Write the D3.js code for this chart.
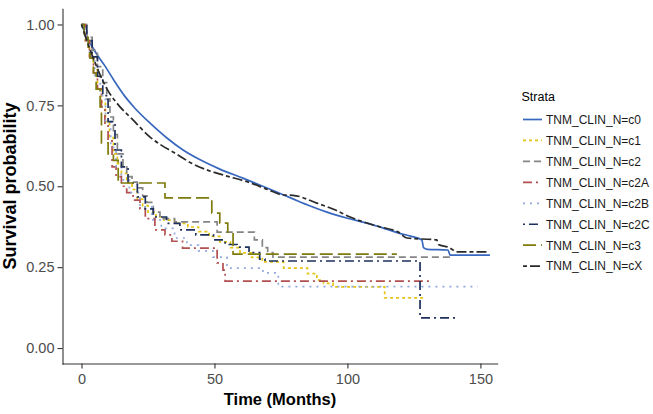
<!DOCTYPE html>
<html><head><meta charset="utf-8">
<script src="https://cdn.jsdelivr.net/npm/d3@7"></script>
<style>body{margin:0;background:#fff}svg{display:block}text{font-family:"Liberation Sans",Arial,sans-serif}</style>
</head><body><div id="chart"></div>
<script>
const strata = ["TNM_CLIN_N=c0","TNM_CLIN_N=c1","TNM_CLIN_N=c2","TNM_CLIN_N=c2A","TNM_CLIN_N=c2B","TNM_CLIN_N=c2C","TNM_CLIN_N=c3","TNM_CLIN_N=cX"];
const xTicks = [0,50,100,150];
const yTicks = [0,0.25,0.5,0.75,1];
const yTickLabels = ["0.00","0.25","0.50","0.75","1.00"];
// [time, survival]
const c0 = [[0,1],[2,0.962],[4,0.932],[6,0.905],[8.8,0.872],[12,0.83],[16.4,0.777],[20,0.742],[25.8,0.695],[32,0.65],[38.2,0.612],[45,0.58],[52,0.553],[60.7,0.525],[70,0.494],[79.5,0.461],[86,0.439],[92.3,0.42],[100,0.401],[107.3,0.386],[113,0.372],[119,0.356],[124,0.345],[128,0.334],[128.6,0.31],[130,0.305],[137.8,0.303],[138.6,0.287],[153.6,0.287]];
const c1 = [[0,1],[1.5,0.95],[3,0.90],[4.5,0.86],[6,0.80],[7.5,0.76],[9,0.70],[10.5,0.65],[12,0.60],[13.5,0.57],[15,0.54],[17,0.51],[19,0.49],[21,0.46],[23,0.44],[25,0.42],[28,0.405],[31,0.395],[35,0.385],[40,0.374],[44,0.36],[48,0.345],[52,0.328],[56,0.31],[59.6,0.294],[64,0.28],[68,0.266],[76,0.247],[85,0.23],[88.5,0.21],[91,0.20],[94.6,0.189],[114,0.155],[129,0.155]];
const c2 = [[0,1],[2,0.96],[4,0.92],[6,0.87],[8,0.82],[9.5,0.77],[10.7,0.714],[12,0.66],[13.5,0.60],[15.6,0.56],[17,0.53],[19,0.513],[21,0.495],[23,0.47],[24.6,0.45],[27,0.42],[29.5,0.40],[35,0.39],[51,0.358],[65,0.334],[68,0.31],[70,0.295],[72,0.281],[139,0.281]];
const c2A = [[0,1],[1.5,0.95],[3,0.90],[4.5,0.85],[6,0.80],[7.5,0.745],[8.8,0.695],[10,0.64],[11.5,0.56],[13,0.53],[15,0.50],[17,0.48],[19.4,0.457],[22,0.43],[24,0.40],[27.6,0.365],[31.4,0.35],[34,0.33],[38,0.309],[51,0.263],[53.2,0.241],[54,0.207],[131,0.207]];
const c2B = [[0,1],[1.5,0.95],[3,0.90],[5,0.84],[7,0.78],[9,0.70],[11,0.62],[13,0.56],[15,0.52],[18,0.48],[22,0.436],[26.5,0.396],[30,0.37],[35,0.34],[39.6,0.318],[44,0.30],[49.4,0.281],[54.7,0.247],[68.2,0.232],[74,0.19],[149,0.19]];
const c2C = [[0,1],[2,0.95],[4,0.90],[6,0.84],[8,0.78],[10,0.70],[12.6,0.612],[15,0.56],[17.5,0.51],[21,0.467],[24,0.43],[27,0.405],[32,0.385],[37,0.365],[43,0.35],[49.6,0.334],[54,0.32],[58.5,0.312],[63,0.295],[67,0.275],[69,0.269],[127.3,0.093],[141.5,0.093]];
const c3 = [[0,1],[1,0.96],[2.5,0.93],[3.2,0.896],[4.5,0.85],[5.5,0.80],[7,0.745],[7.5,0.634],[10,0.60],[12,0.58],[13.8,0.51],[31.4,0.464],[49,0.417],[52,0.386],[55,0.358],[57,0.29],[118.6,0.29]];
const cX = [[0,1],[2,0.95],[5,0.884],[7.5,0.835],[10,0.795],[14,0.75],[19,0.708],[25.8,0.652],[30,0.627],[34.4,0.606],[41.9,0.569],[47,0.551],[53.2,0.535],[63.3,0.511],[70,0.49],[75.8,0.473],[79.5,0.472],[88.5,0.448],[95,0.428],[101,0.405],[107,0.387],[113,0.373],[117,0.365],[119,0.359],[122.4,0.340],[133.6,0.334],[134.2,0.32],[137.8,0.312],[141.5,0.297],[152.4,0.297]];
const seriesData = [c0,c1,c2,c2A,c2B,c2C,c3,cX];
const colors = ["#3867be","#e3c414","#858585","#b24f50","#93a8dd","#1d2f5c","#7f7b0c","#2a2a2a"];
const dashes = ["none","3,3","7,4","9,4,2,4","2,5","2,4,9,4","13,5","4,3,10,3"];
const smooth = [true,false,false,false,false,false,false,true];

const W=653,H=414;
const svg=d3.select("#chart").append("svg").attr("width",W).attr("height",H);
const x=d3.scaleLinear().domain([-7.33,156.5]).range([62,497.7]);
const y=d3.scaleLinear().domain([-0.05,1.05]).range([364.2,8.3]);

const gx=svg.append("g").attr("transform","translate(0,363.5)")
  .call(d3.axisBottom(x).tickValues(xTicks).tickSize(5).tickSizeOuter(0).tickPadding(5));
const gy=svg.append("g").attr("transform","translate(62.5,0)")
  .call(d3.axisLeft(y).tickValues(yTicks).tickFormat((d,i)=>yTickLabels[i]).tickSize(5).tickSizeOuter(0).tickPadding(3));
[gx,gy].forEach(g=>{
  g.select(".domain").attr("stroke","#333").attr("stroke-width",1.1);
  g.selectAll(".tick line").attr("stroke","#333").attr("stroke-width",1.1);
  g.selectAll(".tick text").attr("fill","#4d4d4d").style("font-size","14.5px");
});

const plot=svg.append("g");
seriesData.forEach((s,i)=>{
  const line=d3.line().x(d=>x(d[0])).y(d=>y(d[1])).curve(smooth[i]?d3.curveMonotoneX:d3.curveStepAfter);
  plot.append("path").datum(s).attr("d",line).attr("fill","none")
    .attr("stroke",colors[i]).attr("stroke-width",1.7)
    .attr("stroke-dasharray",dashes[i]);
});

svg.append("text").attr("transform","translate(16,186) rotate(-90)").attr("text-anchor","middle")
  .style("font-size","18px").style("font-weight","bold").attr("fill","#000").text("Survival probability");
svg.append("text").attr("x",280).attr("y",405).attr("text-anchor","middle")
  .style("font-size","16.5px").style("font-weight","bold").attr("fill","#000").text("Time (Months)");

const leg=svg.append("g");
leg.append("text").attr("x",521.5).attr("y",101).style("font-size","12.5px").attr("fill","#000").text("Strata");
strata.forEach((s,i)=>{
  const cy=119.5+i*20.95;
  leg.append("line").attr("x1",523).attr("x2",542).attr("y1",cy).attr("y2",cy)
    .attr("stroke",colors[i]).attr("stroke-width",1.7).attr("stroke-dasharray",dashes[i]);
  leg.append("text").attr("x",546).attr("y",cy).attr("dy","0.36em").style("font-size","12px").attr("fill","#1a1a1a").text(s);
});
</script></body></html>
